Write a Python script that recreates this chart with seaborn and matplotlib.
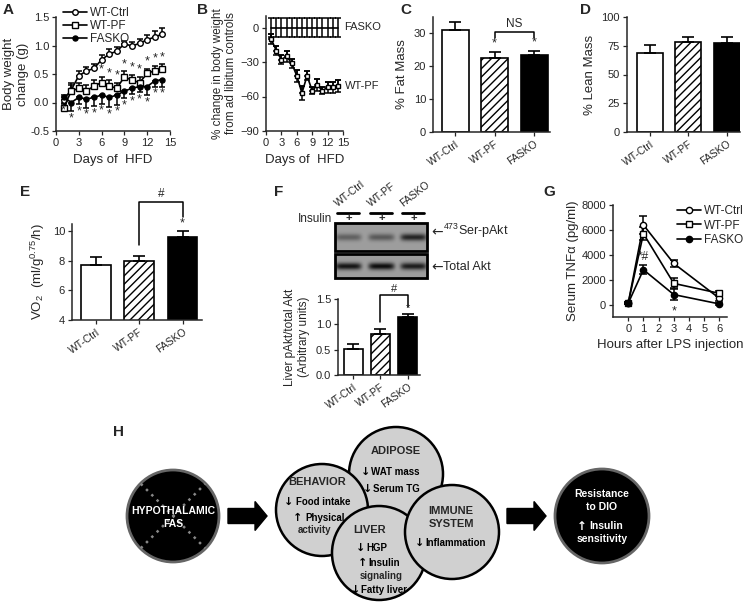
import numpy as np
import pandas as pd
import matplotlib
matplotlib.use("Agg")
import matplotlib.pyplot as plt
import seaborn as sns
from matplotlib.patches import Circle, FancyArrow, Rectangle

# ---- data ----
groups = ["WT-Ctrl", "WT-PF", "FASKO"]

# A: body weight change (g)
days = list(range(1, 15))
a_ctrl = [0.05, 0.22, 0.47, 0.55, 0.60, 0.75, 0.85, 0.90, 1.03, 0.99, 1.04, 1.10, 1.15, 1.20]
a_ctrl_err = [0.08, 0.12, 0.08, 0.08, 0.08, 0.08, 0.08, 0.08, 0.05, 0.07, 0.08, 0.08, 0.10, 0.10]
a_pf = [-0.10, 0.20, 0.25, 0.20, 0.29, 0.35, 0.29, 0.25, 0.45, 0.39, 0.35, 0.51, 0.56, 0.59]
a_pf_err = [0.10, 0.10, 0.10, 0.10, 0.10, 0.10, 0.10, 0.10, 0.10, 0.10, 0.10, 0.08, 0.08, 0.08]
a_ko = [0.10, 0.00, 0.09, 0.06, 0.09, 0.13, 0.09, 0.13, 0.20, 0.25, 0.28, 0.28, 0.38, 0.40]
a_ko_err = [0.12, 0.15, 0.12, 0.15, 0.15, 0.15, 0.17, 0.17, 0.12, 0.10, 0.10, 0.15, 0.10, 0.12]
a_sig_pf_days = [6, 7, 8, 9, 10, 11, 12, 13, 14]
a_sig_ko_days = days

# B: % change vs ad libitum controls
b_pf = [-10, -20, -28, -25, -31, -42, -57, -42, -55, -50, -55, -52, -52, -51]
b_pf_err = [4, 4, 4, 5, 4, 5, 6, 4, 3, 5, 3, 5, 5, 5]
b_ko = [0, 0, 0, 0, 0, 0, 0, 0, 0, 0, 0, 0, 0, 0]
b_ko_err = [8, 8, 8, 8, 8, 8, 8, 8, 8, 8, 8, 8, 8, 8]

# C-F bars
fat = [31.0, 22.5, 23.5]
fat_err = [2.5, 2.0, 1.3]
lean = [69, 78, 77]
lean_err = [7, 5, 6]
vo2 = [7.7, 8.0, 9.6]
vo2_err = [0.55, 0.35, 0.45]
pakt = [0.52, 0.80, 1.15]
pakt_err = [0.10, 0.10, 0.05]
blot_pakt = [0.40, 0.45, 0.80]
blot_total = [0.90, 0.95, 0.85]

# G: serum TNFa
hours = [0, 1, 3, 6]
g_ctrl = [100, 6400, 3300, 500]
g_ctrl_err = [80, 700, 300, 250]
g_pf = [100, 5700, 1700, 900]
g_pf_err = [80, 500, 400, 200]
g_ko = [100, 2800, 800, 50]
g_ko_err = [50, 350, 450, 100]

# ---- style ----
sns.set_style("ticks")
plt.rcParams["font.family"] = ["Liberation Sans", "DejaVu Sans"]
plt.rcParams["mathtext.default"] = "regular"
plt.rcParams["hatch.linewidth"] = 1.0

W, H = 745, 606
fig = plt.figure(figsize=(W / 100, H / 100), dpi=100)

ov = fig.add_axes([0, 0, 1, 1])
ov.set_xlim(0, W)
ov.set_ylim(H, 0)
ov.axis("off")


def px_axes(l, t, r, b):
    return fig.add_axes([l / W, 1 - b / H, (r - l) / W, (b - t) / H])


def style(ax):
    sns.despine(ax=ax)
    ax.tick_params(labelsize=8, length=3, width=0.9, pad=2)
    for s in ["left", "bottom"]:
        ax.spines[s].set_linewidth(1.1)


def bars(ax, vals, errs, lab):
    df = pd.DataFrame({"group": groups, "val": vals})
    sns.barplot(data=df, x="group", y="val", hue="group",
                palette=["white", "white", "black"], edgecolor="black",
                linewidth=1.2, width=0.68, errorbar=None, legend=False, ax=ax)
    ax.patches[1].set_hatch("////")
    ax.errorbar(range(3), vals, yerr=[np.zeros(3), errs], fmt="none",
                ecolor="black", elinewidth=1.2, capsize=4, capthick=1.2, zorder=1)
    ax.set_xlabel("")
    ax.set_ylabel(lab, fontsize=9.5)
    ax.set_xlim(-0.56, 2.4)
    style(ax)
    plt.setp(ax.get_xticklabels(), rotation=35, ha="right",
             rotation_mode="anchor", fontsize=7.5)


def line(ax, x, y, err, lab, mfc, marker, up=True, ms=4):
    sns.lineplot(x=x, y=y, ax=ax, color="black", marker=marker, markersize=ms,
                 markerfacecolor=mfc, markeredgecolor="black", markeredgewidth=1.0,
                 linewidth=1.2, label=lab, zorder=3)
    e = np.array(err)
    yerr = [np.zeros(len(e)), e] if up else [e, np.zeros(len(e))]
    ax.errorbar(x, y, yerr=yerr, fmt="none", ecolor="black",
                elinewidth=1.1, capsize=2.5, capthick=1.1, zorder=2)


# ---- A ----
ax = px_axes(56, 17, 170, 131)
line(ax, days, a_ctrl, a_ctrl_err, "WT-Ctrl", "white", "o")
line(ax, days, a_pf, a_pf_err, "WT-PF", "white", "s", ms=3.8)
line(ax, days, a_ko, a_ko_err, "FASKO", "black", "o", up=False, ms=3.6)
for d in a_sig_pf_days:
    ax.text(d, a_pf[d - 1] + a_pf_err[d - 1] + 0.02, "*", ha="center", va="bottom", fontsize=9)
for d in a_sig_ko_days:
    ax.text(d, a_ko[d - 1] - a_ko_err[d - 1] - 0.02, "*", ha="center", va="top", fontsize=9)
ax.set_xlim(0, 15)
ax.set_ylim(-0.5, 1.5)
ax.set_xticks([0, 3, 6, 9, 12, 15])
ax.set_yticks([-0.5, 0, 0.5, 1.0, 1.5])
ax.set_yticklabels(["-0.5", "0.0", "0.5", "1.0", "1.5"])
ax.set_xlabel("Days of  HFD", fontsize=9.5)
ax.set_ylabel("Body weight\nchange (g)", fontsize=9.5, labelpad=1)
style(ax)
ax.legend(loc="upper left", bbox_to_anchor=(0.02, 1.13), frameon=False, fontsize=8.5,
          handlelength=2.0, handletextpad=0.3, labelspacing=0.1, borderaxespad=0)

# ---- B ----
ax = px_axes(266, 16, 343, 131)
sns.lineplot(x=days, y=b_ko, ax=ax, color="black", linewidth=1.2)
ax.errorbar(days, b_ko, yerr=b_ko_err, fmt="none", ecolor="black", elinewidth=1.1,
            capsize=2.5, capthick=1.1)
line(ax, days, b_pf, b_pf_err, None, "white", "s", ms=3.3)
ax.errorbar(days, b_pf, yerr=b_pf_err, fmt="none", ecolor="black", elinewidth=1.1,
            capsize=2.5, capthick=1.1)
ax.text(15.3, b_ko[-1], "FASKO", fontsize=8, va="center", clip_on=False)
ax.text(15.3, b_pf[-1], "WT-PF", fontsize=8, va="center", clip_on=False)
ax.set_xlim(0, 15)
ax.set_ylim(-90, 10)
ax.set_xticks([0, 3, 6, 9, 12, 15])
ax.set_yticks([-90, -60, -30, 0])
ax.set_xlabel("Days of  HFD", fontsize=9.5)
ax.set_ylabel("% change in body weight\nfrom ad libitum controls", fontsize=8.5, labelpad=2)
style(ax)

# ---- C ----
ax = px_axes(433, 17, 550, 132)
bars(ax, fat, fat_err, "% Fat Mass")
ax.set_ylim(0, 35)
ax.set_yticks([0, 10, 20, 30])
for i in [1, 2]:
    ax.text(i, fat[i] + fat_err[i] + 0.5, "*", ha="center", va="bottom", fontsize=9)
ax.plot([1, 1, 2, 2], [28.6, 30.4, 30.4, 28.6], color="black", lw=1.1, clip_on=False)
ax.text(1.5, 31, "NS", ha="center", va="bottom", fontsize=8.5)

# ---- D ----
ax = px_axes(627, 17, 740, 132)
bars(ax, lean, lean_err, "% Lean Mass")
ax.set_ylim(0, 100)
ax.set_yticks([0, 25, 50, 75, 100])
ax.set_xlim(-0.6, 2.35)

# ---- E ----
ax = px_axes(72, 224, 202, 320)
bars(ax, vo2, vo2_err, "VO$_2$  (ml/g$^{0.75}$/h)")
ax.set_ylim(4, 10.5)
ax.set_yticks([4, 6, 8, 10])
ax.set_xlim(-0.55, 2.45)
ax.text(2, vo2[2] + vo2_err[2] + 0.05, "*", ha="center", va="bottom", fontsize=9)
ax.plot([1, 1, 2, 2], [9.1, 12.0, 12.0, 11.0], color="black", lw=1.1, clip_on=False)
ax.text(1.5, 12.1, "#", ha="center", va="bottom", fontsize=8.5)

# ---- F bars ----
ax = px_axes(338, 299, 420, 375)
bars(ax, pakt, pakt_err, "Liver pAkt/total Akt\n(Arbitrary units)")
ax.yaxis.label.set_size(8.5)
ax.set_ylim(0, 1.5)
ax.set_yticks([0, 0.5, 1.0, 1.5])
ax.set_yticklabels(["0.0", "0.5", "1.0", "1.5"])
ax.set_xlim(-0.56, 2.45)
ax.text(2, pakt[2] + pakt_err[2] + 0.02, "*", ha="center", va="bottom", fontsize=8)
ax.plot([1, 1, 2, 2], [1.05, 1.57, 1.57, 1.35], color="black", lw=1.1, clip_on=False)
ax.text(1.5, 1.59, "#", ha="center", va="bottom", fontsize=8)

# ---- F blot ----
lane_x = [348, 381, 413]
for i, g in enumerate(groups):
    x = lane_x[i]
    ov.plot([x - 11, x + 11], [213, 213], color="black", lw=2)
    ov.text(x + 1, 218, "+", ha="center", va="center", fontsize=8, fontweight="bold")
    ov.text(x - 9, 209, g, rotation=38, ha="left", va="bottom", fontsize=7.5,
            rotation_mode="anchor")
ov.text(332, 219, "Insulin", ha="right", va="center", fontsize=8.5)


def blot(top, bot, inten, sigma):
    xs = np.arange(335, 427)
    ys = np.arange(top, bot, 0.5)
    yc = (top + bot) / 2
    img = np.full((len(ys), len(xs)), 0.62)
    for lx, v in zip(lane_x, inten):
        px = np.exp(-((xs - lx) / 13.0) ** 6)
        py = np.exp(-((ys - yc) / sigma) ** 2)
        img -= v * 0.6 * np.outer(py, px)
    ov.imshow(img, cmap="gray", vmin=0, vmax=1, extent=(335, 427, bot, top),
              aspect="auto", interpolation="bilinear")
    ov.add_patch(Rectangle((335, top), 92, bot - top, fill=False, lw=2, ec="black"))


blot(223, 251, blot_pakt, 3.5)
blot(254, 278, blot_total, 3.5)
ov.set_xlim(0, W)
ov.set_ylim(H, 0)
ov.text(431, 232, "\u2190", fontsize=10, va="center", family="DejaVu Sans")
ov.text(443, 231, "$^{473}$Ser-pAkt", fontsize=9, va="center")
ov.text(431, 267, "\u2190", fontsize=10, va="center", family="DejaVu Sans")
ov.text(443, 267, "Total Akt", fontsize=9, va="center")

# ---- G ----
ax = px_axes(613, 205, 727, 317)
for y, e, lab, mfc, mk in [(g_ctrl, g_ctrl_err, "WT-Ctrl", "white", "o"),
                           (g_pf, g_pf_err, "WT-PF", "white", "s"),
                           (g_ko, g_ko_err, "FASKO", "black", "o")]:
    sns.lineplot(x=hours, y=y, ax=ax, color="black", marker=mk, markersize=4.5,
                 markerfacecolor=mfc, markeredgecolor="black", markeredgewidth=1.0,
                 linewidth=1.2, label=lab, zorder=3)
    ax.errorbar(hours, y, yerr=e, fmt="none", ecolor="black", elinewidth=1.1,
                capsize=3, capthick=1.1, zorder=2)
ax.text(1, 3300, "*#", ha="center", va="bottom", fontsize=8.5)
ax.text(3, -100, "*", ha="center", va="top", fontsize=9)
ax.set_xlim(-1, 6.5)
ax.set_ylim(-1000, 8000)
ax.set_xticks(range(7))
ax.set_yticks([0, 2000, 4000, 6000, 8000])
ax.set_xlabel("Hours after LPS injection", fontsize=9.5)
ax.set_ylabel("Serum TNF\u03b1 (pg/ml)", fontsize=9.5, labelpad=2)
style(ax)
ax.legend(loc="upper left", bbox_to_anchor=(0.52, 1.04), frameon=False, fontsize=8.5,
          handlelength=2.0, handletextpad=0.3, labelspacing=0.2, borderaxespad=0)

# ---- panel letters ----
for lt, x, y in [("A", 3, 10), ("B", 197, 10), ("C", 400, 10), ("D", 580, 10),
                 ("E", 20, 192), ("F", 274, 192), ("G", 543, 192), ("H", 113, 432)]:
    ov.text(x, y, lt, fontsize=11, fontweight="bold", va="center")

# ---- H diagram ----
ov.add_patch(Circle((173, 516), 46, fc="black", ec="#666666", lw=2))
d = 46 * 0.7
ov.plot([173 - d, 173 + d], [516 - d, 516 + d], color="#888888", lw=1.8, ls=(0, (1, 2)))
ov.plot([173 - d, 173 + d], [516 + d, 516 - d], color="#888888", lw=1.8, ls=(0, (1, 2)))
ov.text(173, 511, "HYPOTHALAMIC", color="white", fontsize=7.5, fontweight="bold",
        ha="center", va="center")
ov.text(173, 524, "FAS", color="white", fontsize=7.5, fontweight="bold",
        ha="center", va="center")

for x0 in [228, 507]:
    ov.add_patch(FancyArrow(x0, 516, 27, 0, width=15, head_width=29, head_length=12,
                            length_includes_head=False, color="black"))

gray = "#d0d0d0"
ov.add_patch(Circle((396, 474), 47, fc=gray, ec="black", lw=1.8))
ov.add_patch(Circle((322, 510), 46, fc=gray, ec="black", lw=1.8))
ov.add_patch(Circle((379, 553), 47, fc=gray, ec="black", lw=1.8))
ov.add_patch(Circle((452, 532), 47, fc=gray, ec="black", lw=1.8))


def arrow_text(xa, y, arrow, txt, size=7, color="black", gap=5):
    ov.text(xa, y, arrow, ha="center", va="center", fontsize=size + 1,
            fontweight="bold", family="DejaVu Sans", color=color)
    ov.text(xa + gap, y, txt, ha="left", va="center", fontsize=size,
            fontweight="bold", color=color)


DN, UP = "\u2193", "\u2191"
tk = dict(ha="center", va="center", fontweight="bold")
ov.text(396, 451, "ADIPOSE", fontsize=8, **tk)
arrow_text(366, 472, DN, "WAT mass")
arrow_text(368, 489, DN, "Serum TG")
ov.text(317, 482, "BEHAVIOR", fontsize=8, **tk)
arrow_text(289, 502, DN, "Food intake", gap=7)
arrow_text(298, 518, UP, "Physical", gap=7)
ov.text(315, 530, "activity", fontsize=7, **tk)
ov.text(370, 530, "LIVER", fontsize=8, **tk)
arrow_text(361, 548, DN, "HGP")
arrow_text(363, 563, UP, "Insulin")
ov.text(381, 576, "signaling", fontsize=7, **tk)
arrow_text(356, 590, DN, "Fatty liver")
ov.text(451, 511, "IMMUNE", fontsize=8, **tk)
ov.text(451, 524, "SYSTEM", fontsize=8, **tk)
arrow_text(420, 543, DN, "Inflammation")

ov.add_patch(Circle((602, 516), 47, fc="black", ec="#666666", lw=2))
tw = dict(ha="center", va="center", fontweight="bold", color="white")
ov.text(602, 494, "Resistance", fontsize=7.5, **tw)
ov.text(602, 507, "to DIO", fontsize=7.5, **tw)
arrow_text(582, 526, UP, "Insulin", size=7.5, color="white", gap=7)
ov.text(602, 539, "sensitivity", fontsize=7.5, **tw)

fig.savefig("out.png", dpi=100)
